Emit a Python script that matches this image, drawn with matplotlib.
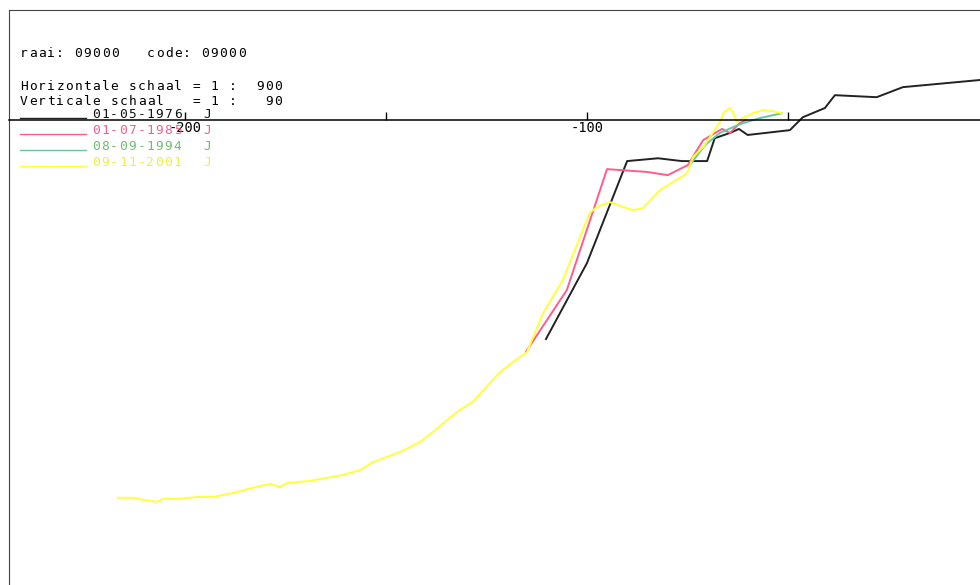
import matplotlib
matplotlib.use('Agg')
from matplotlib import pyplot as plt
from matplotlib.lines import Line2D

# profile data (distance [m], height [m])
x_1976 = [-110.2, -100.0, -90.0, -82.3, -76.4, -70.1, -68.2, -64.4, -62.2, -60.0,
          -49.5, -46.3, -40.8, -38.3, -27.9, -21.4, -2.0]
y_1976 = [-5.45, -3.56, -1.02, -0.95, -1.02, -1.02, -0.45, -0.32, -0.22, -0.37,
          -0.25, 0.07, 0.30, 0.62, 0.57, 0.82, 1.0]

x_1985 = [-115.2, -105.0, -95.0, -85.1, -79.9, -74.9, -71.1, -66.4, -64.4, -61.9, -60.5]
y_1985 = [-5.77, -4.23, -1.22, -1.29, -1.37, -1.12, -0.50, -0.22, -0.32, -0.07, 0.0]

x_1994 = [-74.4, -70.6, -66.9, -61.9, -57.0, -51.5]
y_1994 = [-1.12, -0.62, -0.32, -0.10, 0.05, 0.17]

x_2001 = [-216.7, -212.9, -210.4, -207.0, -205.5, -202.0, -197.0, -193.0, -188.1, -183.1,
          -178.9, -176.4, -174.6, -168.9, -160.7, -156.5, -153.2, -146.5, -141.5, -138.3,
          -132.3, -128.4, -121.6, -118.4, -114.9, -110.9, -106.0, -101.7, -99.3, -97.5,
          -94.3, -91.0, -88.6, -86.1, -81.8, -76.9, -75.1, -73.6, -71.1, -68.7,
          -66.9, -65.9, -64.4, -63.7, -62.7, -61.2, -58.7, -56.2, -53.7, -51.5]
y_2001 = [-9.40, -9.40, -9.45, -9.50, -9.43, -9.43, -9.38, -9.38, -9.28, -9.15,
          -9.05, -9.13, -9.03, -8.98, -8.83, -8.71, -8.51, -8.26, -8.01, -7.76,
          -7.26, -7.01, -6.27, -6.02, -5.77, -4.80, -3.98, -2.91, -2.31, -2.16,
          -2.04, -2.16, -2.24, -2.19, -1.74, -1.44, -1.32, -0.92, -0.67, -0.32,
          -0.05, 0.20, 0.30, 0.20, -0.05, 0.05, 0.17, 0.25, 0.22, 0.17]

dates = ['01-05-1976', '01-07-1985', '08-09-1994', '09-11-2001']
line_colors = ['#222222', '#ff5c8c', '#6cc4a4', '#ffff3c']
text_colors = ['#111111', '#f0608e', '#70bc74', '#eeee44']

tick_pos = [-200, -150, -100, -50]
tick_lab = ['-200', '', '-100', '']

W, H = 980, 585
mono = 'DejaVu Sans Mono'
fs = 9.3
pitch = 9.07  # plotter-style fixed character pitch in pixels

fig = plt.figure(figsize=(W / 100, H / 100), dpi=100)
ax = fig.add_axes([9 / W, 0, 1 - 9 / W, (H - 10) / H])

for xs, ys, c in zip([x_1976, x_1985, x_1994, x_2001],
                     [y_1976, y_1985, y_1994, y_2001], line_colors):
    ax.plot(xs, ys, color=c, lw=1.4)

ax.set_xlim(-243.8, -2.2)
ax.set_ylim(-11.57, 2.74)

ax.spines['right'].set_visible(False)
ax.spines['left'].set_color('#444444')
ax.spines['top'].set_color('#444444')
ax.spines['bottom'].set_position(('data', 0))
ax.spines['bottom'].set_linewidth(1.1)
ax.set_yticks([])
ax.set_xticks(tick_pos)
ax.set_xticklabels(tick_lab, fontfamily=mono, fontsize=fs + 0.5)
ax.tick_params(axis='x', direction='in', length=6, width=1, pad=1)


def ftext(x, y, s, **kw):
    # draw each character at a fixed pitch, like the plotter font
    for i, ch in enumerate(s):
        if ch == ' ':
            continue
        fig.text((x + i * pitch) / W, 1 - y / H, ch, fontfamily=mono, fontsize=fs,
                 va='baseline', ha='left', **kw)


ftext(20, 57, 'raai: 09000   code: 09000')
ftext(20, 90, 'Horizontale schaal = 1 :  900')
ftext(20, 105, 'Verticale schaal   = 1 :   90')

for i, (d, lc, tc) in enumerate(zip(dates, line_colors, text_colors)):
    yb = 118 + 16 * i
    fig.add_artist(Line2D([20 / W, 86 / W], [1 - yb / H, 1 - yb / H], color=lc, lw=1.0))
    ftext(92, yb, d, color=tc)
    ftext(203, yb, 'J', color=tc)

fig.savefig('out.png', dpi=100)
